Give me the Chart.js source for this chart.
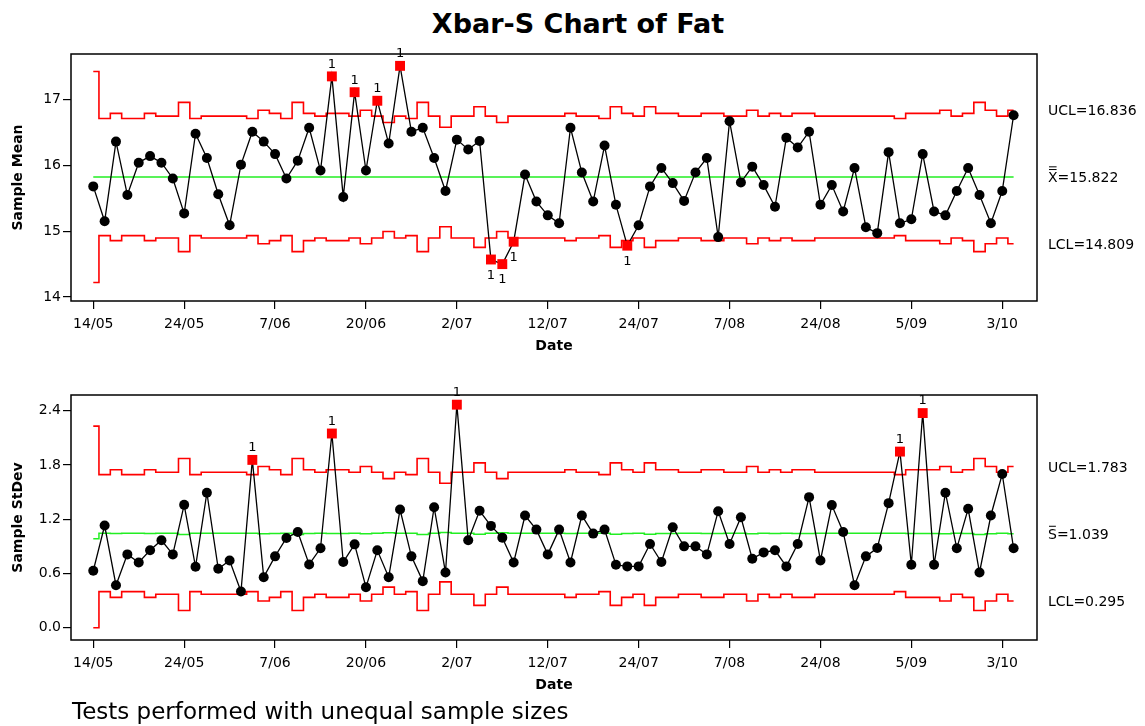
<!DOCTYPE html>
<html>
<head>
<meta charset="utf-8">
<title>Xbar-S Chart of Fat</title>
<script src="https://cdn.jsdelivr.net/npm/chart.js@4.4.1/dist/chart.umd.min.js"></script>
<style>
  html, body { margin: 0; padding: 0; background: #fff; }
  body { width: 1145px; height: 726px; position: relative; overflow: hidden; font-family: "DejaVu Sans", sans-serif; }
  #title { position: absolute; left: 0; top: 8px; width: 1156px; text-align: center; font-weight: bold; font-size: 27px; line-height: 32px; }
  #note { position: absolute; left: 72px; top: 697px; font-size: 23px; line-height: 28px; }
  canvas { position: absolute; left: 0; }
  #meanChart { top: 0; }
  #sdChart { top: 365px; }
</style>
</head>
<body>
<div id="title">Xbar-S Chart of Fat</div>
<canvas id="meanChart" width="1145" height="365"></canvas>
<canvas id="sdChart" width="1145" height="361"></canvas>
<div id="note">Tests performed with unequal sample sizes</div>
<script>
// date labels, one every 8 subgroups
const dateTicks = ['14/05', '24/05', '7/06', '20/06', '2/07', '12/07', '24/07', '7/08', '24/08', '5/09', '3/10'];
const tickStep = 8;

// subgroup means
const xbarMeans = [
  15.68, 15.15, 16.36, 15.55, 16.04, 16.14, 16.04, 15.80, 15.27, 16.48,
  16.11, 15.56, 15.09, 16.01, 16.51, 16.36, 16.17, 15.80, 16.07, 16.57,
  15.92, 17.35, 15.52, 17.11, 15.92, 16.98, 16.33, 17.51, 16.51, 16.57,
  16.11, 15.61, 16.39, 16.24, 16.37, 14.57, 14.50, 14.84, 15.86, 15.45,
  15.24, 15.12, 16.57, 15.89, 15.45, 16.30, 15.40, 14.78, 15.09, 15.68,
  15.96, 15.73, 15.46, 15.89, 16.11, 14.91, 16.67, 15.74, 15.98, 15.70,
  15.37, 16.42, 16.27, 16.51, 15.40, 15.70, 15.30, 15.96, 15.06, 14.97,
  16.20, 15.12, 15.18, 16.17, 15.30, 15.24, 15.61, 15.96, 15.55, 15.12,
  15.61, 16.76
];
const xbarUCL = [
  17.424, 16.711, 16.788, 16.711, 16.711, 16.788, 16.747, 16.747, 16.955, 16.711,
  16.747, 16.747, 16.747, 16.747, 16.711, 16.835, 16.788, 16.711, 16.955, 16.788,
  16.747, 16.788, 16.788, 16.747, 16.835, 16.747, 16.649, 16.747, 16.711, 16.955,
  16.747, 16.577, 16.747, 16.747, 16.890, 16.747, 16.649, 16.747, 16.747, 16.747,
  16.747, 16.747, 16.788, 16.747, 16.747, 16.711, 16.890, 16.788, 16.747, 16.890,
  16.788, 16.788, 16.747, 16.747, 16.788, 16.788, 16.747, 16.747, 16.835, 16.747,
  16.788, 16.747, 16.788, 16.788, 16.747, 16.747, 16.747, 16.747, 16.747, 16.747,
  16.747, 16.711, 16.788, 16.788, 16.788, 16.835, 16.747, 16.788, 16.955, 16.835,
  16.747, 16.835
];
const xbarLCL = [
  14.220, 14.933, 14.856, 14.933, 14.933, 14.856, 14.897, 14.897, 14.689, 14.933,
  14.897, 14.897, 14.897, 14.897, 14.933, 14.809, 14.856, 14.933, 14.689, 14.856,
  14.897, 14.856, 14.856, 14.897, 14.809, 14.897, 14.995, 14.897, 14.933, 14.689,
  14.897, 15.067, 14.897, 14.897, 14.754, 14.897, 14.995, 14.897, 14.897, 14.897,
  14.897, 14.897, 14.856, 14.897, 14.897, 14.933, 14.754, 14.856, 14.897, 14.754,
  14.856, 14.856, 14.897, 14.897, 14.856, 14.856, 14.897, 14.897, 14.809, 14.897,
  14.856, 14.897, 14.856, 14.856, 14.897, 14.897, 14.897, 14.897, 14.897, 14.897,
  14.897, 14.933, 14.856, 14.856, 14.856, 14.809, 14.897, 14.856, 14.689, 14.809,
  14.897, 14.809
];
const xbarCenter = 15.822;
const meanTicks = [14, 15, 16, 17];
const meanLimitLabels = [['UCL', 16.836, 0], ['X', 15.822, 2], ['LCL', 14.809, 0]];

// subgroup standard deviations
const sDevs = [
  0.630, 1.130, 0.470, 0.811, 0.722, 0.856, 0.967, 0.811, 1.359, 0.674,
  1.493, 0.652, 0.744, 0.400, 1.856, 0.559, 0.789, 0.993, 1.059, 0.700,
  0.878, 2.148, 0.726, 0.922, 0.448, 0.856, 0.559, 1.307, 0.789, 0.515,
  1.333, 0.611, 2.467, 0.967, 1.293, 1.126, 0.996, 0.722, 1.241, 1.085,
  0.811, 1.085, 0.722, 1.241, 1.041, 1.085, 0.696, 0.678, 0.678, 0.926,
  0.726, 1.111, 0.900, 0.900, 0.811, 1.289, 0.926, 1.222, 0.763, 0.833,
  0.856, 0.678, 0.926, 1.444, 0.744, 1.356, 1.059, 0.470, 0.789, 0.881,
  1.378, 1.948, 0.696, 2.374, 0.696, 1.493, 0.878, 1.315, 0.611, 1.241,
  1.700, 0.878
];
const sUCL = [
  2.230, 1.693, 1.748, 1.693, 1.693, 1.748, 1.719, 1.719, 1.871, 1.693,
  1.719, 1.719, 1.719, 1.719, 1.693, 1.783, 1.748, 1.693, 1.871, 1.748,
  1.719, 1.748, 1.748, 1.719, 1.783, 1.719, 1.649, 1.719, 1.693, 1.871,
  1.719, 1.598, 1.719, 1.719, 1.823, 1.719, 1.649, 1.719, 1.719, 1.719,
  1.719, 1.719, 1.748, 1.719, 1.719, 1.693, 1.823, 1.748, 1.719, 1.823,
  1.748, 1.748, 1.719, 1.719, 1.748, 1.748, 1.719, 1.719, 1.783, 1.719,
  1.748, 1.719, 1.748, 1.748, 1.719, 1.719, 1.719, 1.719, 1.719, 1.719,
  1.719, 1.693, 1.748, 1.748, 1.748, 1.783, 1.719, 1.748, 1.871, 1.783,
  1.719, 1.783
];
const sCL = [
  0.984, 1.046, 1.042, 1.046, 1.046, 1.042, 1.044, 1.044, 1.031, 1.046,
  1.044, 1.044, 1.044, 1.044, 1.046, 1.039, 1.042, 1.046, 1.031, 1.042,
  1.044, 1.042, 1.042, 1.044, 1.039, 1.044, 1.049, 1.044, 1.046, 1.031,
  1.044, 1.052, 1.044, 1.044, 1.035, 1.044, 1.049, 1.044, 1.044, 1.044,
  1.044, 1.044, 1.042, 1.044, 1.044, 1.046, 1.035, 1.042, 1.044, 1.035,
  1.042, 1.042, 1.044, 1.044, 1.042, 1.042, 1.044, 1.044, 1.039, 1.044,
  1.042, 1.044, 1.042, 1.042, 1.044, 1.044, 1.044, 1.044, 1.044, 1.044,
  1.044, 1.046, 1.042, 1.042, 1.042, 1.039, 1.044, 1.042, 1.031, 1.039,
  1.044, 1.039
];
const sLCL = [
  0.000, 0.399, 0.335, 0.399, 0.399, 0.335, 0.370, 0.370, 0.190, 0.399,
  0.370, 0.370, 0.370, 0.370, 0.399, 0.295, 0.335, 0.399, 0.190, 0.335,
  0.370, 0.335, 0.335, 0.370, 0.295, 0.370, 0.449, 0.370, 0.399, 0.190,
  0.370, 0.507, 0.370, 0.370, 0.247, 0.370, 0.449, 0.370, 0.370, 0.370,
  0.370, 0.370, 0.335, 0.370, 0.370, 0.399, 0.247, 0.335, 0.370, 0.247,
  0.335, 0.335, 0.370, 0.370, 0.335, 0.335, 0.370, 0.370, 0.295, 0.370,
  0.335, 0.370, 0.335, 0.335, 0.370, 0.370, 0.370, 0.370, 0.370, 0.370,
  0.370, 0.399, 0.335, 0.335, 0.335, 0.295, 0.370, 0.335, 0.190, 0.295,
  0.370, 0.295
];
const sdTicks = [0, 0.6, 1.2, 1.8, 2.4];
const sdLimitLabels = [['UCL', 1.783, 0], ['S', 1.039, 1], ['LCL', 0.295, 0]];

Chart.defaults.font.family = '"DejaVu Sans", sans-serif';
Chart.defaults.color = '#000';

function pts(arr) {
  return arr.map((v, i) => ({ x: i, y: v }));
}

const panels = {
  meanChart: {
    values: xbarMeans, ucl: xbarUCL, lcl: xbarLCL,
    center: [{ x: 0, y: xbarCenter }, { x: xbarMeans.length - 1, y: xbarCenter }],
    yMin: 13.94, yMax: 17.69, yTicks: meanTicks, yFmt: v => String(v),
    yTitle: 'Sample Mean', labels: meanLimitLabels,
    padding: { left: 0, right: 108, top: 54, bottom: 14 }
  },
  sdChart: {
    values: sDevs, ucl: sUCL, lcl: sLCL,
    center: pts(sCL),
    yMin: -0.136, yMax: 2.574, yTicks: sdTicks, yFmt: v => v.toFixed(1),
    yTitle: 'Sample StDev', labels: sdLimitLabels,
    padding: { left: 0, right: 108, top: 30, bottom: 36 }
  }
};

// frame, axis titles, test flags and limit labels
const decor = {
  id: 'decor',
  afterDatasetsDraw(chart) {
    const p = panels[chart.canvas.id];
    const { ctx, chartArea: a } = chart;
    const yScale = chart.scales.y;
    ctx.save();
    ctx.strokeStyle = '#000';
    ctx.lineWidth = 1.5;
    ctx.strokeRect(a.left, a.top, a.right - a.left, a.bottom - a.top);

    ctx.fillStyle = '#000';
    ctx.textAlign = 'center';
    ctx.textBaseline = 'middle';
    ctx.font = '13px "DejaVu Sans"';
    const meta = chart.getDatasetMeta(0);
    p.values.forEach((v, i) => {
      const pt = meta.data[i];
      if (v > p.ucl[i]) ctx.fillText('1', pt.x, pt.y - 12);
      else if (v < p.lcl[i]) ctx.fillText('1', pt.x, pt.y + 16);
    });

    ctx.font = 'bold 14px "DejaVu Sans"';
    ctx.fillText('Date', (a.left + a.right) / 2, a.bottom + 45);
    ctx.save();
    ctx.translate(18, (a.top + a.bottom) / 2);
    ctx.rotate(-Math.PI / 2);
    ctx.fillText(p.yTitle, 0, 0);
    ctx.restore();

    ctx.font = '14px "DejaVu Sans"';
    ctx.textAlign = 'left';
    ctx.textBaseline = 'alphabetic';
    p.labels.forEach(([name, val, bars]) => {
      const base = yScale.getPixelForValue(val) + 5;
      const tx = a.right + 11;
      ctx.fillText(name + '=' + val.toFixed(3), tx, base);
      const w = ctx.measureText(name).width;
      ctx.lineWidth = 1;
      for (let b = 0; b < bars; b++) {
        const by = base - 12.5 - b * 2.7;
        ctx.beginPath();
        ctx.moveTo(tx + 1, by);
        ctx.lineTo(tx + w - 1, by);
        ctx.stroke();
      }
    });
    ctx.restore();
  }
};

function makeChart(id) {
  const p = panels[id];
  const isOut = i => p.values[i] > p.ucl[i] || p.values[i] < p.lcl[i];
  const axisGrid = { drawOnChartArea: false, drawTicks: true, tickLength: 8, color: '#000', lineWidth: 1.2 };
  return new Chart(document.getElementById(id), {
    type: 'line',
    data: {
      datasets: [
        {
          data: pts(p.values),
          borderColor: '#000',
          borderWidth: 1.3,
          pointStyle: c => isOut(c.dataIndex) ? 'rect' : 'circle',
          pointRadius: c => isOut(c.dataIndex) ? 7 : 5,
          pointBackgroundColor: c => isOut(c.dataIndex) ? '#ff0000' : '#000',
          pointBorderWidth: 0
        },
        { data: p.center, borderColor: '#22ee22', borderWidth: 1.5, pointRadius: 0, stepped: 'middle' },
        { data: pts(p.ucl), borderColor: '#ff0000', borderWidth: 1.6, pointRadius: 0, stepped: 'middle' },
        { data: pts(p.lcl), borderColor: '#ff0000', borderWidth: 1.6, pointRadius: 0, stepped: 'middle' }
      ]
    },
    options: {
      responsive: false,
      animation: false,
      layout: { padding: p.padding },
      plugins: { legend: { display: false }, tooltip: { enabled: false } },
      scales: {
        x: {
          type: 'linear',
          min: -1.96,
          max: 83.06,
          afterBuildTicks: s => { s.ticks = dateTicks.map((d, k) => ({ value: k * tickStep })); },
          afterFit: s => { s.height = 50; },
          ticks: { callback: (v, k) => dateTicks[k], font: { size: 14 }, padding: 7, maxRotation: 0, autoSkip: false },
          grid: axisGrid,
          border: { display: false }
        },
        y: {
          min: p.yMin,
          max: p.yMax,
          afterBuildTicks: s => { s.ticks = p.yTicks.map(v => ({ value: v })); },
          afterFit: s => { s.width = 71; },
          ticks: { callback: v => p.yFmt(v), font: { size: 14 }, padding: 2 },
          grid: axisGrid,
          border: { display: false }
        }
      }
    },
    plugins: [decor]
  });
}

makeChart('meanChart');
makeChart('sdChart');
</script>
</body>
</html>
